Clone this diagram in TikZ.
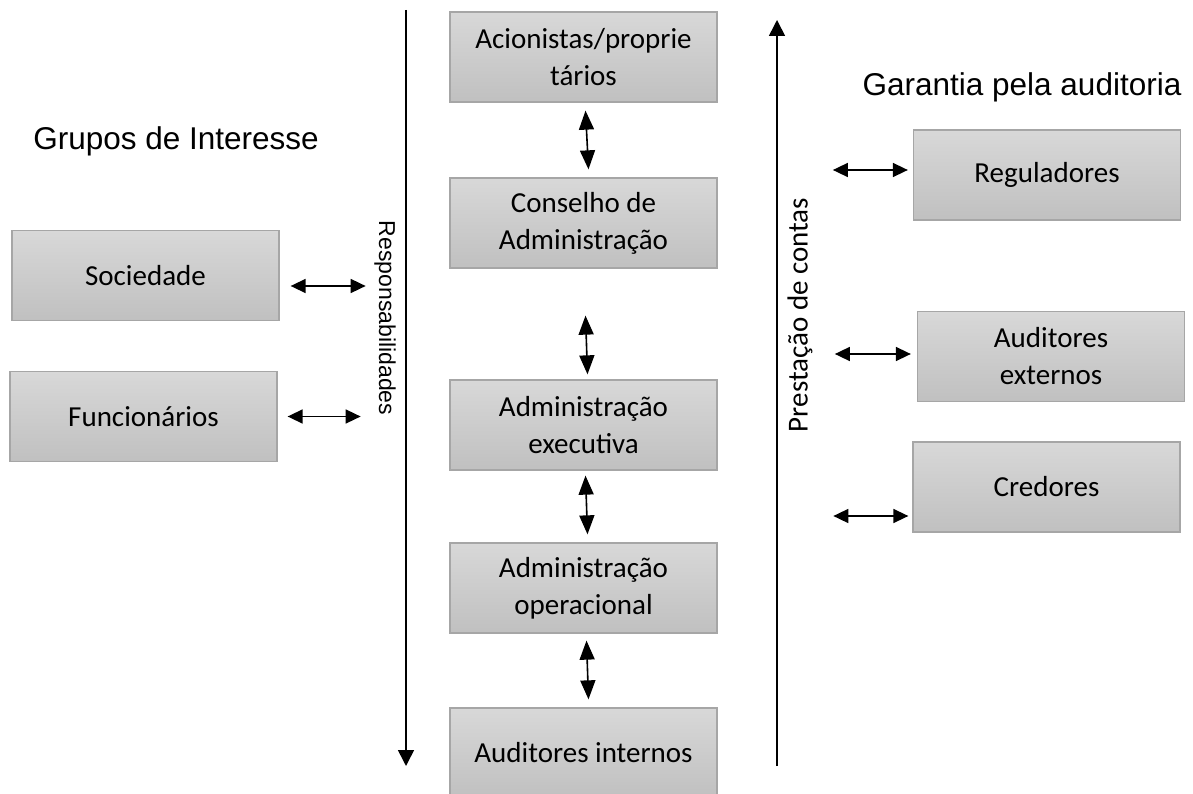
\documentclass[tikz,border=0pt]{standalone}
\usepackage{fontspec}
\setmainfont{Carlito}
\newfontfamily\arialfont{Liberation Sans}
\usepackage{xcolor}
\usetikzlibrary{arrows.meta}
\definecolor{boxtop}{HTML}{D8D8D8}
\definecolor{boxbot}{HTML}{C0C0C0}
\definecolor{boxline}{HTML}{A6A6A6}

\begin{document}
\begin{tikzpicture}[x=1pt,y=-1pt,
    gbox/.style={draw=boxline,line width=1.3pt,top color=boxtop,bottom color=boxbot,
      minimum width=267pt,minimum height=90pt,align=center,inner sep=0pt,
      font=\fontsize{29}{37}\selectfont},
    dbl/.style={line width=1.6pt,{Triangle[length=15pt,width=14pt]}-{Triangle[length=15pt,width=14pt]}},
    vdbl/.style={line width=1.6pt,{Triangle[length=19pt,width=15pt]}-{Triangle[length=19pt,width=15pt]}},
    axis/.style={line width=1.6pt,-{Triangle[length=16pt,width=16pt]}}]
  \useasboundingbox (0,0) rectangle (1193,794);
  % centre column
  \node[gbox] (acion) at (583.5,57) {Acionistas/proprie\\tários};
  \node[gbox] (cons) at (583.5,223) {Conselho de\\Administração};
  \node[gbox] (exec) at (583.5,425) {Administração\\executiva};
  \node[gbox] (oper) at (583.5,588) {Administração\\operacional};
  \node[gbox] (audint) at (583.5,753) {Auditores internos};
  % left and right groups
  \node[gbox] (soc) at (145.5,275.5) {Sociedade};
  \node[gbox] (func) at (143.5,416.5) {Funcionários};
  \node[gbox] (regul) at (1047,175) {Reguladores};
  \node[gbox] (audext) at (1051,356.5) {Auditores\\externos};
  \node[gbox] (cred) at (1046.5,487) {Credores};
  % headings
  \node[anchor=base,font=\arialfont\fontsize{31.5}{36}\selectfont] (grupos) at (176,150) {Grupos de Interesse};
  \node[anchor=base,font=\arialfont\fontsize{31.5}{36}\selectfont] (garantia) at (1022,96) {Garantia pela auditoria};
  % side axes
  \coordinate (respA) at (406,10);
  \coordinate (respB) at (406,766);
  \coordinate (prestA) at (777,766);
  \coordinate (prestB) at (777,20);
  \draw[axis] (respA) -- (respB);
  \draw[axis] (prestA) -- (prestB);
  \node[rotate=-90,font=\arialfont\fontsize{23}{28}\selectfont] (resp) at (385,318) {Responsabilidades};
  \node[rotate=90,font=\fontsize{29}{35}\selectfont] (prest) at (800,315) {Prestação de contas};
  % vertical links
  \draw[vdbl] ([xshift=2pt,yshift=-8pt]acion.south) -- ([xshift=5pt,yshift=8pt]cons.north);
  \draw[vdbl] ([xshift=2pt,yshift=-47pt]cons.south) -- ([xshift=4pt,yshift=5pt]exec.north);
  \draw[vdbl] ([xshift=2pt,yshift=-5pt]exec.south) -- ([xshift=4pt,yshift=8pt]oper.north);
  \draw[vdbl] ([xshift=3pt,yshift=-7pt]oper.south) -- ([xshift=5pt,yshift=8pt]audint.north);
  % horizontal links
  \draw[dbl] ([xshift=11pt,yshift=-10.5pt]soc.east) -- ++(75,0);
  \draw[dbl] ([xshift=10pt]func.east) -- ++(73,0);
  \draw[dbl] ([xshift=-5pt,yshift=5pt]regul.west) -- ++(-75,0);
  \draw[dbl] ([xshift=-6pt,yshift=2.5pt]audext.west) -- ++(-76,0);
  \draw[dbl] ([xshift=-4pt,yshift=-29pt]cred.west) -- ++(-75,0);
\end{tikzpicture}
\end{document}
